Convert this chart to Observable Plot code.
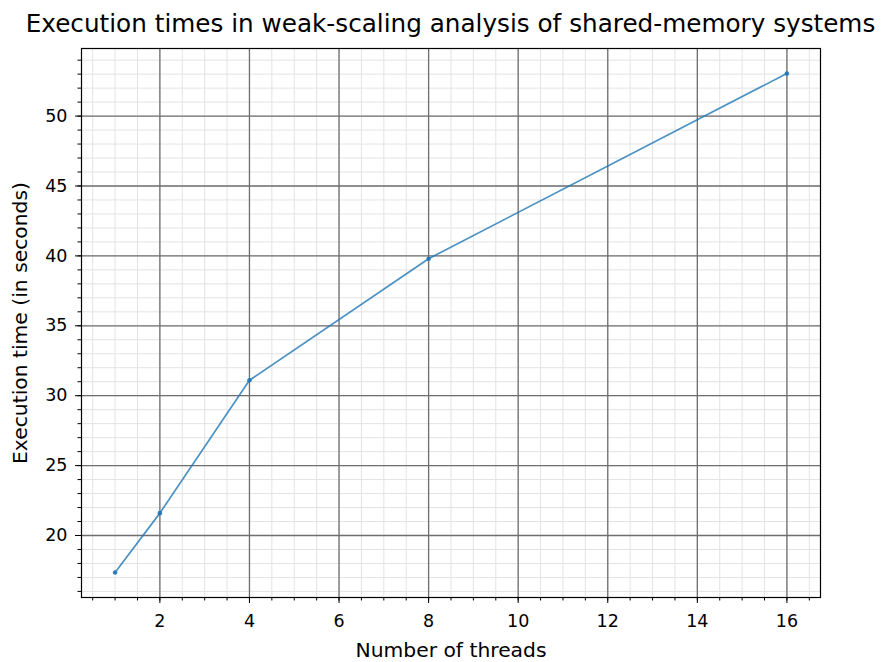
<!DOCTYPE html>
<html>
<head>
<meta charset="utf-8">
<script src="https://cdn.jsdelivr.net/npm/d3@7"></script>
<script src="https://cdn.jsdelivr.net/npm/@observablehq/plot@0.6"></script>
<style>
  body { margin: 0; background: #fff; font-family: "DejaVu Sans", sans-serif; }
  #title { width: 882px; box-sizing: border-box; padding: 5px 0 0 19px; height: 40px; line-height: 38px;
           text-align: center; font-size: 24.7px; color: #000; white-space: nowrap; overflow: visible; }
  #chart svg g[aria-label="x-axis tick label"] text,
  #chart svg g[aria-label="y-axis tick label"] text { font-size: 17.5px; }
  #chart svg g[aria-label="x-axis label"] text,
  #chart svg g[aria-label="y-axis label"] text { font-size: 20.3px; }
</style>
</head>
<body>
<div id="title">Execution times in weak-scaling analysis of shared-memory systems</div>
<div id="chart"></div>
<script>
const threads = [1, 2, 4, 8, 16];
const times = [17.35, 21.6, 31.1, 39.8, 53.05];
const xTicks = [2, 4, 6, 8, 10, 12, 14, 16];
const yTicks = [20, 25, 30, 35, 40, 45, 50];
const xMinor = d3.range(0.5, 16.75, 0.5);
const yMinor = d3.range(16, 55, 1);

const data = threads.map((t, i) => ({t, v: times[i]}));
const xr = d3.extent(threads), yr = d3.extent(times);
const xm = (xr[1] - xr[0]) * 0.05, ym = (yr[1] - yr[0]) * 0.05;

const chart = Plot.plot({
  width: 882,
  height: 622,
  marginLeft: 81,
  marginRight: 62,
  marginTop: 8,
  marginBottom: 65,
  style: {fontFamily: "DejaVu Sans, sans-serif", color: "#000", background: "#fff"},
  x: {domain: [xr[0] - xm, xr[1] + xm]},
  y: {domain: [yr[0] - ym, yr[1] + ym]},
  marks: [
    Plot.gridX(xMinor, {stroke: "#e3e3e3", strokeOpacity: 1, strokeWidth: 1}),
    Plot.gridY(yMinor, {stroke: "#e3e3e3", strokeOpacity: 1, strokeWidth: 1}),
    Plot.gridX(xTicks, {stroke: "#6e6e6e", strokeOpacity: 1, strokeWidth: 1.3}),
    Plot.gridY(yTicks, {stroke: "#6e6e6e", strokeOpacity: 1, strokeWidth: 1.3}),
    Plot.axisX(xMinor, {tickSize: 3.5, text: null, label: null, stroke: "#000"}),
    Plot.axisY(yMinor, {tickSize: 3.5, text: null, label: null, stroke: "#000"}),
    Plot.axisX(xTicks, {tickSize: 6, tickPadding: 11, label: "Number of threads", labelAnchor: "center", labelArrow: "none", labelOffset: 59, stroke: "#000"}),
    Plot.axisY(yTicks, {tickSize: 6, tickPadding: 8, label: "Execution time (in seconds)", labelAnchor: "center", labelArrow: "none", labelOffset: 69, stroke: "#000"}),
    Plot.line(data, {x: "t", y: "v", stroke: "#1f77b4", strokeOpacity: 0.8, strokeWidth: 1.7}),
    Plot.dot(data, {x: "t", y: "v", r: 2.3, fill: "#1f77b4", fillOpacity: 0.9}),
    Plot.frame({stroke: "#000", strokeWidth: 1.2})
  ]
});
document.getElementById("chart").appendChild(chart);
</script>
</body>
</html>
